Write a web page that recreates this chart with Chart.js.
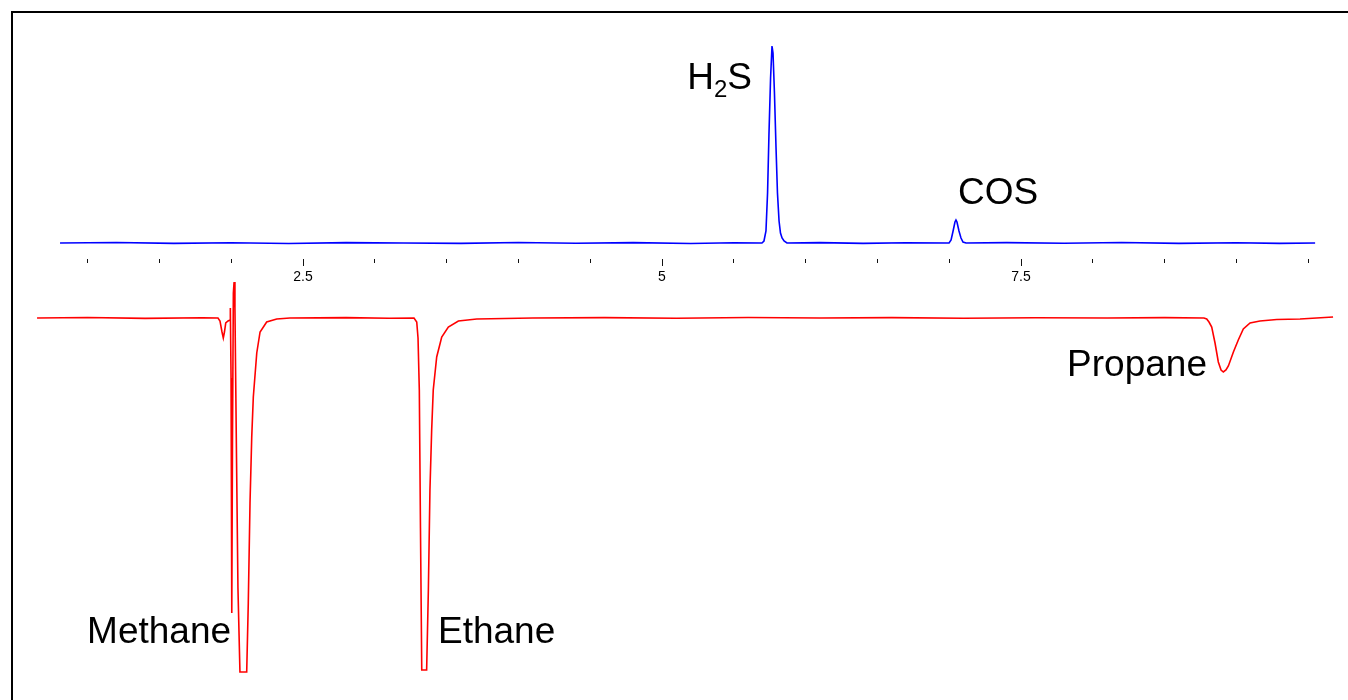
<!DOCTYPE html>
<html>
<head>
<meta charset="utf-8">
<script src="https://cdn.jsdelivr.net/npm/chart.js@4.4.1/dist/chart.umd.min.js"></script>
<style>
  html, body { margin: 0; padding: 0; background: #fff; overflow: hidden; }
  #frame { position: absolute; left: 11px; top: 11px; width: 1400px; height: 760px;
           border-left: 2px solid #000; border-top: 2px solid #000; }
  #wrap { position: absolute; left: 0; top: 0; width: 1348px; height: 700px; }
</style>
</head>
<body>
<div id="frame"></div>
<div id="wrap"><canvas id="c"></canvas></div>
<script>
"use strict";
// Two-channel chromatogram: blue (sulfur) trace above the time axis, red (FID-like,
// inverted) trace below it. Time in minutes, signals in detector counts.

const majorTicks = [2.5, 5, 7.5];
const minorTicks = [1, 1.5, 2, 3, 3.5, 4, 4.5, 5.5, 6, 6.5, 7, 8, 8.5, 9, 9.5];

// blue trace: H2S ~5.77 min, COS ~7.05 min
const blueTime = [
  0.808, 1.2, 1.6, 2.0, 2.4, 2.8, 3.2, 3.6, 4.0, 4.4, 4.8, 5.2, 5.5,
  5.696, 5.710, 5.724, 5.735, 5.745, 5.756, 5.766, 5.773, 5.783, 5.794, 5.804, 5.815, 5.825, 5.836, 5.850, 5.870,
  6.1, 6.4, 6.7,
  6.999, 7.013, 7.027, 7.040, 7.047, 7.054, 7.068, 7.082, 7.096, 7.117,
  7.4, 7.8, 8.2, 8.6, 9.0, 9.3, 9.548
];
const blueSignal = [
  0, 0.5, -0.4, 0.3, -0.5, 0.4, 0, -0.4, 0.5, -0.3, 0.4, -0.5, 0.3,
  0, 2, 12, 50, 110, 165, 197, 190, 150, 95, 50, 22, 10, 5, 2, 0,
  0.4, -0.4, 0.3,
  0, 3, 12, 21, 23, 21, 12, 5, 1, 0,
  0.4, -0.3, 0.5, -0.4, 0.3, -0.4, 0
];

// red trace: methane ~2.06, ethane ~3.33, propane ~8.91 min (negative going, clipped)
const redTime = [
  0.648, 1.0, 1.4, 1.8,
  1.908, 1.922, 1.936, 1.945, 1.953, 1.962, 1.978, 1.992, 1.994, 1.999, 2.004, 2.009, 2.015, 2.020, 2.026,
  2.037, 2.047, 2.061, 2.108, 2.119, 2.131, 2.143, 2.154, 2.178, 2.201, 2.247, 2.317, 2.409,
  2.8, 3.1,
  3.273, 3.292, 3.301, 3.310, 3.318, 3.327, 3.361, 3.373, 3.384, 3.396, 3.407, 3.431, 3.466, 3.512, 3.582, 3.710,
  4.1, 4.6, 5.1, 5.6, 6.1, 6.6, 7.1, 7.6, 8.1, 8.5,
  8.774, 8.793, 8.809, 8.828, 8.851, 8.874, 8.893, 8.909, 8.927, 8.944, 8.979, 9.013, 9.048, 9.095, 9.164, 9.281, 9.443,
  9.673
];
const redSignal = [
  0, 0.5, -0.4, 0.3,
  0, -3, -14, -20, -14, -5, -3, -2, 10, -60, -295, -120, 25, 36, 10,
  -140, -270, -354, -354, -285, -185, -119, -79, -35, -14, -4, -1, 0,
  0.4, -0.3,
  0, -4, -20, -72, -210, -352, -352, -272, -172, -112, -72, -39, -19, -9, -3, -1,
  0, 0.4, -0.3, 0.5, 0, 0.4, -0.3, 0.3, 0, 0.4,
  0, -1, -4, -9, -25, -44, -52, -54, -52, -48, -34, -22, -11, -5, -3, -1.5, -1,
  1
];

const peakLabels = [
  { parts: [["H", 0], ["2", 1], ["S", 0]], x: 5.627, y: 154, axis: "yB", align: "right" },
  { parts: [["COS", 0]], x: 7.061, y: 39, axis: "yB", align: "left" },
  { parts: [["Methane", 0]], x: 1.999, y: -325, axis: "yR", align: "right" },
  { parts: [["Ethane", 0]], x: 3.440, y: -325, axis: "yR", align: "left" },
  { parts: [["Propane", 0]], x: 8.795, y: -58, axis: "yR", align: "right" }
];

const FONT = "'Liberation Sans', Arial, Helvetica, sans-serif";
const pts = (xs, ys) => xs.map((x, i) => ({ x, y: ys[i] }));

const labelPlugin = {
  id: "peakLabels",
  afterDatasetsDraw(chart) {
    const ctx = chart.ctx, xs = chart.scales.x;
    ctx.save();
    ctx.fillStyle = "#000";
    ctx.textBaseline = "alphabetic";
    ctx.textAlign = "left";
    peakLabels.forEach(l => {
      const fontOf = sub => (sub ? "24px " : "37px ") + FONT;
      let w = 0;
      l.parts.forEach(([t, sub]) => { ctx.font = fontOf(sub); w += ctx.measureText(t).width; });
      let px = xs.getPixelForValue(l.x);
      const py = chart.scales[l.axis].getPixelForValue(l.y);
      if (l.align === "right") px -= w;
      l.parts.forEach(([t, sub]) => {
        ctx.font = fontOf(sub);
        ctx.fillText(t, px, py + (sub ? 8 : 0));
        px += ctx.measureText(t).width;
      });
    });
    ctx.restore();
  }
};

const line = (data, color, yAxisID) => ({
  data, yAxisID, xAxisID: "x", borderColor: color, borderWidth: 1.6,
  pointRadius: 0, fill: false, tension: 0
});

new Chart(document.getElementById("c"), {
  type: "line",
  data: {
    datasets: [
      line(pts(blueTime, blueSignal), "#0000ff", "yB"),
      line(pts(redTime, redSignal), "#ff0000", "yR")
    ]
  },
  options: {
    responsive: true, maintainAspectRatio: false, animation: false, events: [],
    layout: { padding: 0 },
    plugins: { legend: { display: false }, tooltip: { enabled: false } },
    scales: {
      x: {
        type: "linear", min: 0.39, max: 9.777, position: { yB: -15.5 },
        border: { display: false },
        grid: { display: true, drawOnChartArea: false, drawTicks: true, tickLength: 7, tickColor: "#111", tickWidth: 1 },
        ticks: { color: "#000", font: { family: FONT, size: 14 }, padding: 3, maxRotation: 0, autoSkip: false,
                 callback: v => String(v) },
        afterBuildTicks: s => { s.ticks = majorTicks.map(v => ({ value: v })); }
      },
      x2: {
        type: "linear", min: 0.39, max: 9.777, position: { yB: -15.5 },
        border: { display: false },
        grid: { display: true, drawOnChartArea: false, drawTicks: true, tickLength: 4, tickColor: "#111", tickWidth: 1 },
        ticks: { display: false },
        afterBuildTicks: s => { s.ticks = minorTicks.map(v => ({ value: v })); }
      },
      yB: { type: "linear", display: false, min: -457, max: 243 },
      yR: { type: "linear", display: false, min: -382, max: 318 }
    }
  },
  plugins: [labelPlugin]
});
</script>
</body>
</html>
